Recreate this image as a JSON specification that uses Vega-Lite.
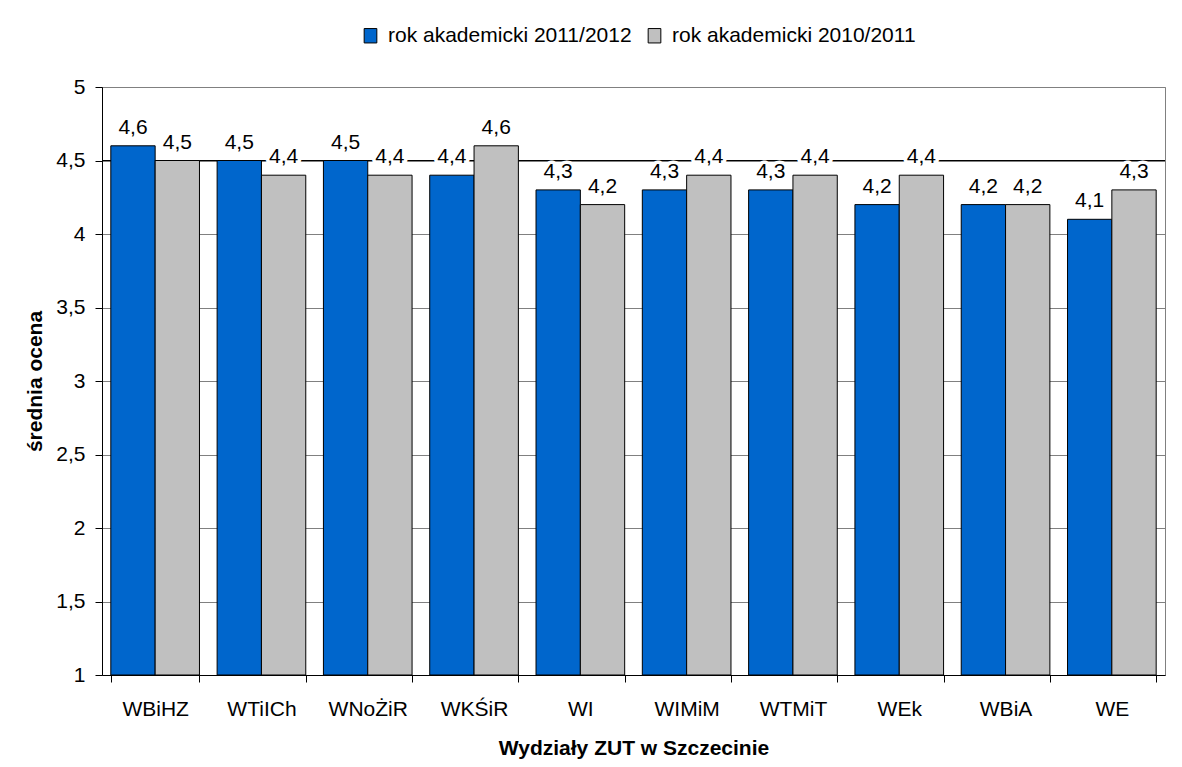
{
  "$schema": "https://vega.github.io/schema/vega-lite/v6.json",
  "width": 1063,
  "height": 588,
  "autosize": {"type": "none"},
  "padding": {"left": 102, "top": 87, "right": 17, "bottom": 92},
  "background": "white",
  "config": {
    "font": "Liberation Sans",
    "locale": {"number": {"decimal": ",", "thousands": " ", "grouping": [3], "currency": ["", " zł"]}},
    "view": {"stroke": "#808080", "strokeWidth": 1},
    "axis": {
      "labelFontSize": 21,
      "labelColor": "black",
      "titleFontSize": 21,
      "titleFontWeight": "bold",
      "titleColor": "black",
      "domainColor": "black",
      "tickColor": "black",
      "tickSize": 7,
      "gridColor": "#808080",
      "gridOpacity": 1
    },
    "legend": {
      "labelFontSize": 21,
      "labelColor": "black",
      "labelLimit": 0,
      "symbolStrokeColor": "black",
      "symbolStrokeWidth": 1,
      "symbolOpacity": 1
    }
  },
  "datasets": {
    "main": [
      {"wydzial": "WBiHZ", "rok": "rok akademicki 2011/2012", "v": 4.6},
      {"wydzial": "WBiHZ", "rok": "rok akademicki 2010/2011", "v": 4.5},
      {"wydzial": "WTiICh", "rok": "rok akademicki 2011/2012", "v": 4.5},
      {"wydzial": "WTiICh", "rok": "rok akademicki 2010/2011", "v": 4.4},
      {"wydzial": "WNoŻiR", "rok": "rok akademicki 2011/2012", "v": 4.5},
      {"wydzial": "WNoŻiR", "rok": "rok akademicki 2010/2011", "v": 4.4},
      {"wydzial": "WKŚiR", "rok": "rok akademicki 2011/2012", "v": 4.4},
      {"wydzial": "WKŚiR", "rok": "rok akademicki 2010/2011", "v": 4.6},
      {"wydzial": "WI", "rok": "rok akademicki 2011/2012", "v": 4.3},
      {"wydzial": "WI", "rok": "rok akademicki 2010/2011", "v": 4.2},
      {"wydzial": "WIMiM", "rok": "rok akademicki 2011/2012", "v": 4.3},
      {"wydzial": "WIMiM", "rok": "rok akademicki 2010/2011", "v": 4.4},
      {"wydzial": "WTMiT", "rok": "rok akademicki 2011/2012", "v": 4.3},
      {"wydzial": "WTMiT", "rok": "rok akademicki 2010/2011", "v": 4.4},
      {"wydzial": "WEk", "rok": "rok akademicki 2011/2012", "v": 4.2},
      {"wydzial": "WEk", "rok": "rok akademicki 2010/2011", "v": 4.4},
      {"wydzial": "WBiA", "rok": "rok akademicki 2011/2012", "v": 4.2},
      {"wydzial": "WBiA", "rok": "rok akademicki 2010/2011", "v": 4.2},
      {"wydzial": "WE", "rok": "rok akademicki 2011/2012", "v": 4.1},
      {"wydzial": "WE", "rok": "rok akademicki 2010/2011", "v": 4.3}
    ],
    "ref": [{"poziom": 4.5}]
  },
  "layer": [
    {
      "data": {"name": "ref"},
      "mark": {"type": "rule", "color": "black", "strokeWidth": 1},
      "encoding": {
        "y": {"field": "poziom", "type": "quantitative"}
      }
    },
    {
      "data": {"name": "main"},
      "mark": {"type": "bar", "stroke": "black", "strokeWidth": 1},
      "encoding": {
        "x": {
          "field": "wydzial", "type": "nominal", "sort": null,
          "scale": {"paddingInner": 0.166, "paddingOuter": 0.083},
          "axis": {
            "labelAngle": 0,
            "labelPadding": 16,
            "tickBand": "extent",
            "title": "Wydziały ZUT w Szczecinie",
            "titlePadding": 18,
            "grid": false
          }
        },
        "xOffset": {
          "field": "rok", "type": "nominal",
          "sort": ["rok akademicki 2011/2012", "rok akademicki 2010/2011"],
          "scale": {"paddingInner": 0, "paddingOuter": 0}
        },
        "y": {
          "field": "v", "type": "quantitative",
          "scale": {"domain": [1, 5], "nice": false, "zero": false},
          "axis": {
            "values": [1, 1.5, 2, 2.5, 3, 3.5, 4, 4.5, 5],
            "format": ".1~f",
            "labelPadding": 10,
            "title": "średnia ocena",
            "titlePadding": 10,
            "grid": true
          }
        },
        "y2": {"datum": 1},
        "color": {
          "field": "rok", "type": "nominal",
          "scale": {
            "domain": ["rok akademicki 2011/2012", "rok akademicki 2010/2011"],
            "range": ["#0066CC", "#C0C0C0"]
          },
          "legend": {
            "orient": "none",
            "direction": "horizontal",
            "legendX": 258,
            "legendY": -62,
            "title": null,
            "padding": 0,
            "symbolType": "M-0.88,-1H0.88V1H-0.88Z",
            "symbolSize": 207,
            "labelOffset": 7,
            "columnPadding": 12
          }
        }
      }
    },
    {
      "data": {"name": "main"},
      "mark": {"type": "text", "align": "center", "baseline": "alphabetic", "dy": -12, "fontSize": 21, "fill": "white", "stroke": "white", "strokeWidth": 7, "strokeJoin": "round"},
      "encoding": {
        "x": {"field": "wydzial", "type": "nominal", "sort": null},
        "xOffset": {"field": "rok", "type": "nominal", "sort": ["rok akademicki 2011/2012", "rok akademicki 2010/2011"]},
        "y": {"field": "v", "type": "quantitative"},
        "text": {"field": "v", "type": "quantitative", "format": ".1f"}
      }
    },
    {
      "data": {"name": "main"},
      "mark": {"type": "text", "align": "center", "baseline": "alphabetic", "dy": -12, "fontSize": 21, "color": "black"},
      "encoding": {
        "x": {"field": "wydzial", "type": "nominal", "sort": null},
        "xOffset": {"field": "rok", "type": "nominal", "sort": ["rok akademicki 2011/2012", "rok akademicki 2010/2011"]},
        "y": {"field": "v", "type": "quantitative"},
        "text": {"field": "v", "type": "quantitative", "format": ".1f"}
      }
    }
  ]
}
